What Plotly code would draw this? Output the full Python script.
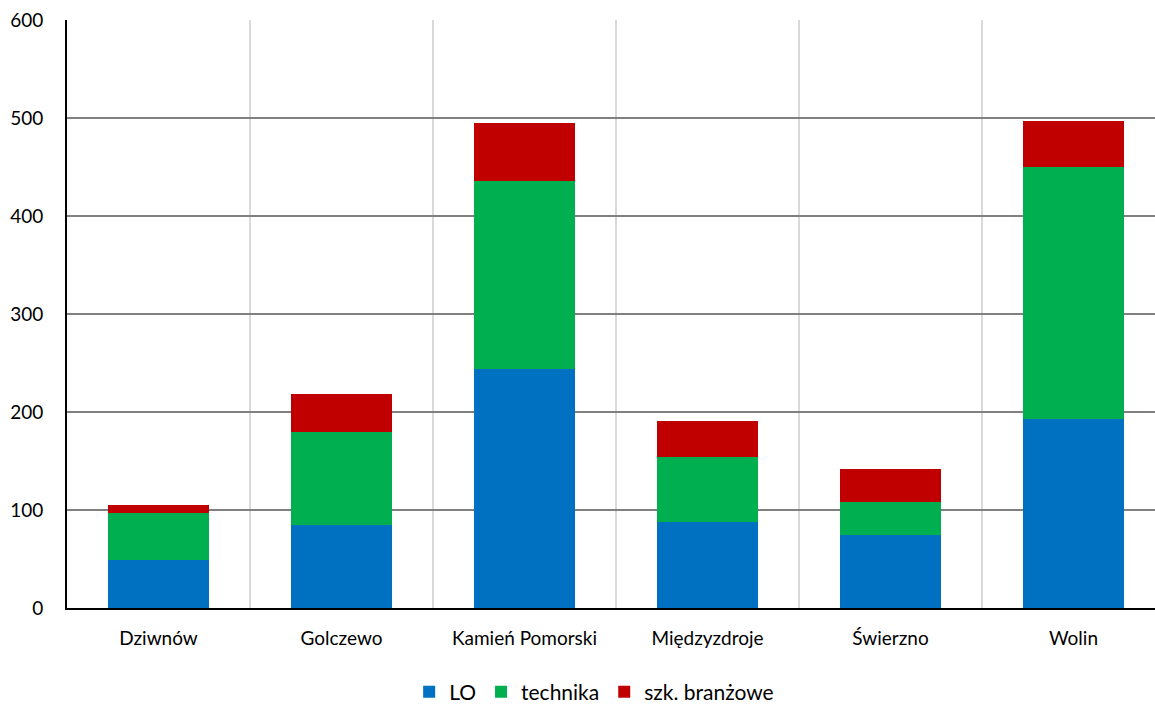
import plotly.graph_objects as go

# gminy
gminy = ['Dziwnów', 'Golczewo', 'Kamień Pomorski', 'Międzyzdroje', 'Świerzno', 'Wolin']

# liczba uczniów wg typu szkoły (odczyt z wykresu)
lo = [49, 85, 244, 88, 75, 193]
technika = [48, 95, 192, 66, 33, 257]
branzowe = [8, 38, 59, 37, 34, 47]

fig = go.Figure()
fig.add_trace(go.Bar(name='LO', x=gminy, y=lo, marker_color='#0070C0'))
fig.add_trace(go.Bar(name='technika', x=gminy, y=technika, marker_color='#00B050'))
fig.add_trace(go.Bar(name='szk. branżowe', x=gminy, y=branzowe, marker_color='#C00000'))

fig.update_traces(marker_line_width=0)

# wykres w oryginale jest przycięty z prawej strony, stąd szerokość > okna
fig.update_layout(
    barmode='stack',
    bargap=0.443,
    width=1165, height=704,
    margin=dict(l=67, r=0, t=20, b=96),
    plot_bgcolor='white',
    paper_bgcolor='white',
    font=dict(family='Lato, Open Sans, sans-serif', size=19, color='#000000'),
    legend=dict(orientation='h', x=0.51, xanchor='center', xref='container',
                y=0.017, yanchor='middle', yref='container',
                font=dict(size=21), itemwidth=30, traceorder='normal'),
    xaxis=dict(
        showline=True, linecolor='#000000', linewidth=2,
        tickson='boundaries', showgrid=True, gridcolor='#d9d9d9', gridwidth=2,
        ticks='', ticklabelstandoff=12, automargin=False,
    ),
    yaxis=dict(
        range=[0, 600], dtick=100,
        showline=True, linecolor='#000000', linewidth=2,
        showgrid=True, gridcolor='#808080', gridwidth=1.5,
        zeroline=False, ticks='', ticklabelstandoff=18, automargin=False,
    ),
)

# bez domyślnego marginesu strony i bez pasków przewijania
fig.write_html(
    'out.html',
    config={'displayModeBar': False},
    post_script="document.body.style.margin='0';"
                "document.body.style.overflow='hidden';"
                "document.documentElement.style.overflow='hidden';",
)
